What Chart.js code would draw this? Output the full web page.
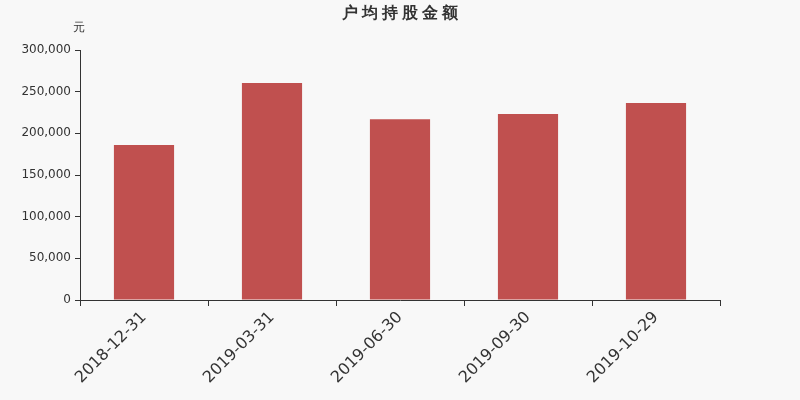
<!DOCTYPE html>
<html>
<head>
<meta charset="utf-8">
<script src="https://cdn.jsdelivr.net/npm/chart.js"></script>
<style>
  html, body { margin: 0; padding: 0; background: #f8f8f8; }
  #wrap { width: 800px; height: 400px; }
</style>
</head>
<body>
<div id="wrap"><canvas id="myChart" width="800" height="400"></canvas></div>
<script>
const chartTitle = '户均持股金额'
const unitText = '元'
const dates = ['2018-12-31', '2019-03-31', '2019-06-30', '2019-09-30', '2019-10-29']
const amounts = [186000, 260400, 216800, 223200, 236400]
const yTicks = [0, 50000, 100000, 150000, 200000, 250000, 300000]

// title centred on the whole canvas, unit label above the y axis
const headerText = {
  id: 'headerText',
  afterDraw(chart){
    const ctx = chart.ctx
    ctx.save()
    ctx.fillStyle = '#333'
    ctx.textAlign = 'center'
    ctx.textBaseline = 'middle'
    ctx.font = 'bold 16px "DejaVu Sans", sans-serif'
    ctx.letterSpacing = '4px'
    ctx.fillText(chartTitle, chart.width / 2 + 2, 14)
    ctx.letterSpacing = '0px'
    ctx.font = '12px "DejaVu Sans", sans-serif'
    ctx.fillText(unitText, chart.chartArea.left - 1, 28)
    ctx.restore()
  }
}

const config = {
  type: 'bar',
  data: {
    labels: dates,
    datasets: [{
      label: chartTitle,
      data: amounts,
      backgroundColor: '#c0504f',
      barPercentage: 0.94,
      categoryPercentage: 0.5
    }]
  },
  options: {
    responsive: false,
    animation: false,
    layout: { padding: { left: 0, right: 80, top: 50, bottom: 0 } },
    plugins: {
      legend: { display: false },
      tooltip: { enabled: false },
      title: { display: false }
    },
    scales: {
      x: {
        offset: true,
        border: { color: '#333' },
        grid: { drawOnChartArea: false, color: '#333', tickLength: 6, offset: true },
        ticks: {
          color: '#333',
          font: { size: 16, family: '"DejaVu Sans", sans-serif' },
          maxRotation: 45,
          minRotation: 45,
          autoSkip: false,
          padding: 2
        },
        afterFit(scale){ scale.height = 100 }
      },
      y: {
        min: 0,
        max: 300000,
        border: { color: '#333' },
        grid: { drawOnChartArea: false, color: '#333', tickLength: 5 },
        afterBuildTicks(scale){ scale.ticks = yTicks.map(v => ({value: v})) },
        ticks: {
          color: '#333',
          font: { size: 12, family: '"DejaVu Sans", sans-serif' },
          padding: 4,
          callback: v => v.toLocaleString('en-US')
        },
        afterFit(scale){ scale.width = 80 }
      }
    }
  },
  plugins: [headerText]
}

new Chart(document.getElementById('myChart'), config)
</script>
</body>
</html>
